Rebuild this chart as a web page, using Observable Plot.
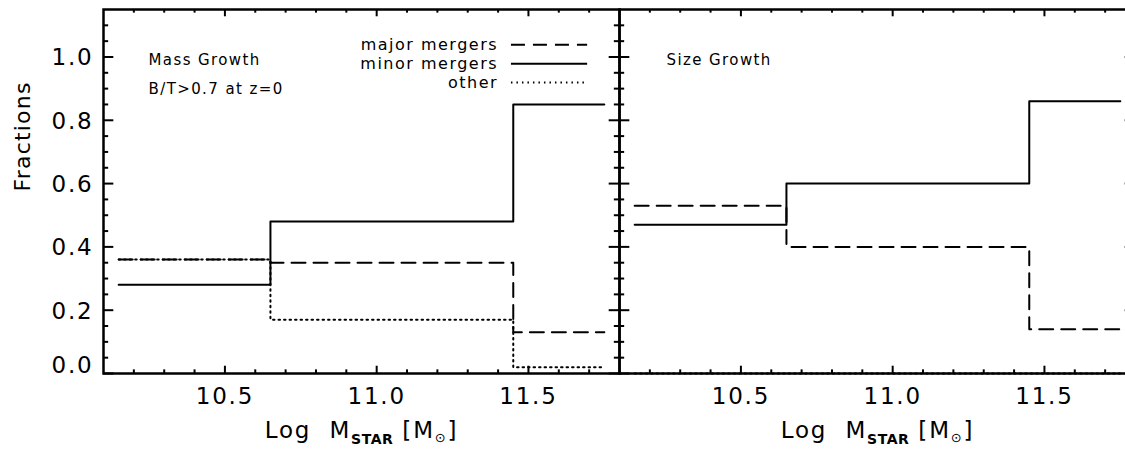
<!DOCTYPE html>
<html>
<head>
<meta charset="utf-8">
<script src="https://cdn.jsdelivr.net/npm/d3@7"></script>
<script src="https://cdn.jsdelivr.net/npm/@observablehq/plot@0.6"></script>
<style>
  body { margin: 0; background: #fff; }
  #chart { position: relative; width: 1125px; height: 451px; overflow: hidden; background: #fff; }
  #chart svg { position: absolute; top: 0; }
</style>
</head>
<body>
<div id="chart"></div>
<script>
// Stellar-mass bin edges (log M_star)
const binEdges = [10.15, 10.65, 11.45, 11.75];

// Mass growth: fraction contributed by each channel, per bin
const massMajor = [0.36, 0.35, 0.13];
const massMinor = [0.28, 0.48, 0.85];
const massOther = [0.36, 0.17, 0.02];

// Size growth: fraction contributed by each channel, per bin
const sizeMajor = [0.53, 0.40, 0.14];
const sizeMinor = [0.47, 0.60, 0.86];
const sizeOther = [0.00, 0.00, 0.00];

// Axis ticks and labels
const xMajorTicks = [10.5, 11.0, 11.5];
const xTickLabels = ["10.5", "11.0", "11.5"];
const xMinorTicks = [10.2, 10.3, 10.4, 10.6, 10.7, 10.8, 10.9, 11.1, 11.2, 11.3, 11.4, 11.6, 11.7];
const yMajorTicks = [0.0, 0.2, 0.4, 0.6, 0.8, 1.0];
const yTickLabels = ["0.0", "0.2", "0.4", "0.6", "0.8", "1.0"];
const yMinorTicks = [0.05, 0.1, 0.15, 0.25, 0.3, 0.35, 0.45, 0.5, 0.55, 0.65, 0.7, 0.75, 0.85, 0.9, 0.95, 1.05, 1.1];

// Legend entries (label, swatch style), placed in data units of the left panel
const legendLabels = ["major mergers", "minor mergers", "other"];
const legendKeys = ["major", "minor", "other"];
const legendY = [1.039, 0.979, 0.919];
const legendTextX = 11.40;
const legendX = [11.444, 11.695];

const titleText = "Log MSTAR [M\u2299]";
const dashes = {
  major: "14,8",
  minor: null,
  other: "1.5,4"
};

const xDomain = [10.1, 11.8];
const yDomain = [0, 1.15];
const H = 451, mTop = 9, mBottom = 78;
const innerH = H - mTop - mBottom;
const FONT = "DejaVu Sans";

function stepRows(values) {
  return binEdges.map((e, i) => ({x: e, y: values[Math.min(i, values.length - 1)]}));
}

function seriesMarks(major, minor, other) {
  const common = {x: "x", y: "y", curve: "step-after", stroke: "black", strokeWidth: 2};
  return [
    Plot.line(stepRows(other), {...common, strokeDasharray: dashes.other}),
    Plot.line(stepRows(major), {...common, strokeDasharray: dashes.major}),
    Plot.line(stepRows(minor), {...common})
  ];
}

function tickMarks(innerW) {
  const yMaj = innerW * 0.02, yMin = yMaj / 2;
  const xMaj = innerH * 0.02, xMin = xMaj / 2;
  const s = {stroke: "black", strokeWidth: 2};
  return [
    Plot.tickY(yMajorTicks, {y: d => d, insetRight: innerW - yMaj, ...s}),
    Plot.tickY(yMinorTicks, {y: d => d, insetRight: innerW - yMin, ...s}),
    Plot.tickY(yMajorTicks, {y: d => d, insetLeft: innerW - yMaj, ...s}),
    Plot.tickY(yMinorTicks, {y: d => d, insetLeft: innerW - yMin, ...s}),
    Plot.tickX(xMajorTicks, {x: d => d, insetTop: innerH - xMaj, ...s}),
    Plot.tickX(xMinorTicks, {x: d => d, insetTop: innerH - xMin, ...s}),
    Plot.tickX(xMajorTicks, {x: d => d, insetBottom: innerH - xMaj, ...s}),
    Plot.tickX(xMinorTicks, {x: d => d, insetBottom: innerH - xMin, ...s})
  ];
}

function xAxisMarks() {
  return [
    Plot.text(xMajorTicks, {x: d => d, text: (d, i) => xTickLabels[i], frameAnchor: "bottom", dy: 30, fontSize: 23, fill: "black"}),
    Plot.text([titleText], {text: d => d, frameAnchor: "bottom", dy: 64, fontSize: 23, fill: "black"})
  ];
}

function makePanel({width, marginLeft, marginRight, marks}) {
  return Plot.plot({
    width, height: H, marginLeft, marginRight, marginTop: mTop, marginBottom: mBottom,
    style: {background: "transparent", fontFamily: FONT, overflow: "visible"},
    x: {domain: xDomain, axis: null},
    y: {domain: yDomain, axis: null},
    marks
  });
}

// Subscripted axis title and wider letter spacing for the text groups
function finishText(svg) {
  d3.select(svg).selectAll("text").filter(function() { return this.textContent === titleText; }).each(function() {
    const t = d3.select(this);
    t.text(null);
    t.append("tspan").text("Log  M");
    t.append("tspan").attr("font-size", 14).attr("font-weight", "bold").attr("letter-spacing", 0.5).attr("dy", 6).text("STAR");
    t.append("tspan").attr("dy", -6).text(" [M");
    t.append("tspan").attr("font-size", 13).attr("dy", 4).text("\u2299");
    t.append("tspan").attr("dy", -4).text("]");
  });
  d3.select(svg).selectAll("g[font-size='15'] text").attr("letter-spacing", 1.4);
  d3.select(svg).selectAll("g[font-size='16'] text").attr("letter-spacing", 1.5);
  d3.select(svg).selectAll("g[font-size='23'] text").attr("letter-spacing", 1.8);
}

const chart = document.getElementById("chart");
const txt = {fill: "black"};
const annot = {frameAnchor: "top-left", fontSize: 15, lineAnchor: "middle", ...txt};

// Left panel: mass growth
const leftW = 620, leftML = 103, leftMR = 1;
const leftInner = leftW - leftML - leftMR;
const left = makePanel({
  width: leftW, marginLeft: leftML, marginRight: leftMR,
  marks: [
    ...seriesMarks(massMajor, massMinor, massOther),
    ...tickMarks(leftInner),
    Plot.frame({stroke: "black", strokeWidth: 2.5}),
    Plot.text(yMajorTicks.filter(v => v > 0), {y: d => d, text: d => yTickLabels[yMajorTicks.indexOf(d)], frameAnchor: "left", textAnchor: "end", dx: -10, dy: 1, fontSize: 23, ...txt}),
    Plot.text(yMajorTicks.filter(v => v === 0), {y: d => d, text: d => yTickLabels[yMajorTicks.indexOf(d)], frameAnchor: "left", textAnchor: "end", dx: -10, dy: -8, fontSize: 23, ...txt}),
    Plot.text(["Fractions"], {text: d => d, frameAnchor: "left", rotate: -90, dx: -81, fontSize: 22, ...txt}),
    Plot.text(["Mass Growth"], {...annot, text: d => d, textAnchor: "start", dx: 45, dy: 51}),
    Plot.text(["B/T>0.7 at z=0"], {...annot, text: d => d, textAnchor: "start", dx: 45, dy: 80}),
    Plot.text(legendLabels, {x: legendTextX, y: (d, i) => legendY[i], text: d => d, textAnchor: "end", fontSize: 16, ...txt}),
    ...legendKeys.map((k, i) =>
      Plot.ruleY([legendY[i]], {x1: legendX[0], x2: legendX[1], stroke: "black", strokeWidth: 2, strokeDasharray: dashes[k]})),
    ...xAxisMarks()
  ]
});
left.style.left = "0px";
finishText(left);
d3.select(left).selectAll("text").filter(function() { return this.textContent === "Fractions"; }).attr("letter-spacing", 1.2);
chart.appendChild(left);

// Right panel: size growth
const rightW = 521, rightML = 2, rightMR = 3;
const rightInner = rightW - rightML - rightMR;
const right = makePanel({
  width: rightW, marginLeft: rightML, marginRight: rightMR,
  marks: [
    ...seriesMarks(sizeMajor, sizeMinor, sizeOther),
    ...tickMarks(rightInner),
    Plot.frame({stroke: "black", strokeWidth: 2.5}),
    Plot.text(["Size Growth"], {...annot, text: d => d, textAnchor: "start", dx: 47, dy: 51}),
    ...xAxisMarks()
  ]
});
right.style.left = "617px";
finishText(right);
chart.appendChild(right);
</script>
</body>
</html>
